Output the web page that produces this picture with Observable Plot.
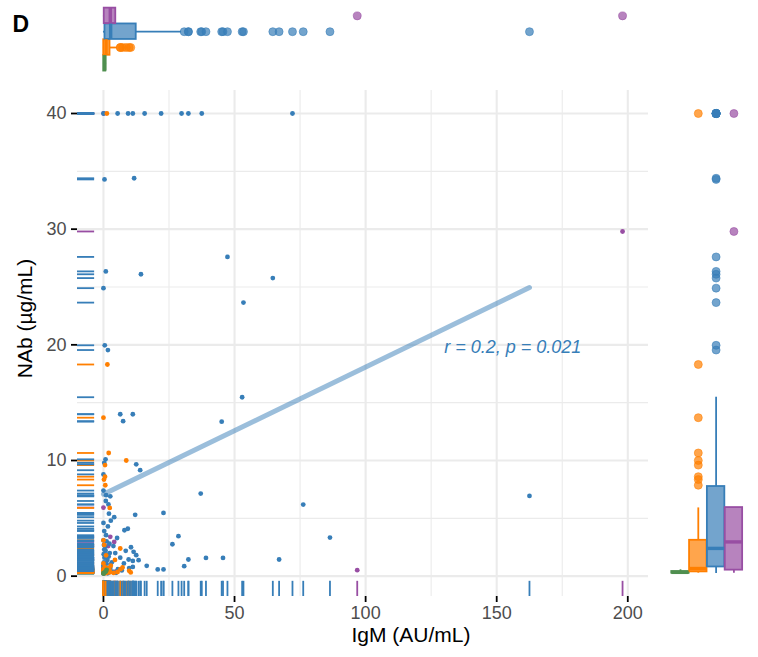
<!DOCTYPE html>
<html>
<head>
<meta charset="utf-8">
<script src="https://cdn.jsdelivr.net/npm/d3@7"></script>
<script src="https://cdn.jsdelivr.net/npm/@observablehq/plot@0.6"></script>
<style>
  body { margin: 0; background: #fff; }
  #chart { position: relative; width: 758px; height: 657px; font-family: "Liberation Sans", Arial, sans-serif; }
  #chart svg { position: absolute; left: 0; top: 0; }
</style>
</head>
<body>
<div id="chart"></div>
<script>
// Groups, listed bottom-to-top in the top margin and left-to-right in the right margin
const groups = ["Group 1", "Group 2", "Group 3", "Group 4"];
const groupColors = ["#4F8F4F", "#FF7F00", "#377EB8", "#984EA3"];

// Each sample as [IgM (AU/mL), NAb (µg/mL)]
const group1 = [[0.9, 0.4], [0, 0.26], [0.5, 0.33], [1.2, 0.55], [0.1, 0.23]];

const group2 = [
  [1.3, 40], [1.5, 18.3], [0, 13.7], [2.0, 10.65], [8.7, 10.0], [0.6, 9.6], [0.6, 8.6], [0.2, 8.35],
  [0.7, 7.86], [2.4, 5.9], [0, 3.1], [6.4, 2.39], [0.3, 2.7], [1.0, 1.8], [4.4, 1.4], [0, 1.1],
  [2.8, 0.9], [0.5, 0.8], [7.3, 0.75], [1.8, 0.7], [0.9, 0.66], [6.5, 0.6], [0, 0.63], [0.4, 0.58],
  [2.3, 0.55], [1.1, 0.52], [0, 0.5], [9.8, 0.46], [2.2, 0.43], [0.1, 0.4], [0, 0.37], [5.4, 0.36],
  [0, 0.35], [2.5, 0.34], [0, 0.33], [10.4, 0.32], [1.6, 0.31], [0, 0.3], [3.9, 0.28], [0, 0.27],
  [0.8, 0.26]
];

const group3 = [
  [0, 40], [5.4, 40], [9.4, 40], [11.2, 40], [15.7, 40], [22.0, 40], [29.8, 40], [32.4, 40], [37.5, 40], [72.1, 40],
  [0.4, 34.3], [11.7, 34.4], [47.3, 27.6], [0.9, 26.35], [14.3, 26.1], [64.6, 25.77], [0, 24.9], [53.4, 23.65],
  [0.5, 19.96], [1.7, 19.55], [52.9, 15.47], [6.4, 14.0], [11.2, 14.0], [7.5, 13.4], [45.1, 13.36],
  [0.8, 10.1], [0.3, 9.8], [12.5, 9.67], [14.0, 9.16], [0, 8.8], [0, 7.4], [1.0, 7.0], [2.6, 6.9],
  [162.5, 6.94], [76.2, 6.19], [37.1, 7.14], [1.9, 6.2], [2.1, 5.4], [4.1, 5.1], [2.8, 4.8], [12.1, 5.3],
  [22.9, 5.47], [8.0, 3.97], [9.3, 4.1], [0.3, 3.9], [1.0, 3.54], [0, 3.1], [28.6, 3.46], [26.3, 2.76],
  [86.4, 3.34], [8.5, 2.19], [11.5, 2.1], [12.5, 1.81], [6.4, 1.6], [9.6, 1.44], [11.2, 1.32], [13.4, 1.38],
  [16.5, 0.89], [20.7, 0.58], [22.9, 0.58], [11.2, 0.8], [4.8, 0.29], [32.4, 1.44], [30.8, 0.86],
  [39.1, 1.58], [45.6, 1.58], [67.0, 1.44],
  [0, 0.23], [0, 0.35], [0.1, 0.42], [0, 0.5], [0.2, 0.55], [0.3, 0.62], [0.1, 0.7], [0, 0.75],
  [0.4, 0.3], [0.2, 0.45], [0.5, 0.65], [0.3, 0.28], [0, 0.6], [0.4, 0.78],
  [0, 0.95], [0.2, 1.2], [0.4, 1.6], [0.1, 1.9], [0.3, 2.3], [0.2, 2.7], [0, 4.6],
  [0.7, 0.3], [1.0, 0.4], [1.4, 0.5], [1.8, 0.6], [2.2, 0.35], [2.6, 0.7], [0.9, 0.75], [1.6, 0.25], [2.0, 0.55],
  [0.6, 0.9], [1.1, 1.1], [1.5, 1.4], [2.0, 1.7], [2.4, 2.0], [0.8, 2.2], [1.3, 1.85], [2.7, 1.0],
  [0.7, 2.55], [1.2, 3.0], [1.7, 4.3], [2.3, 2.8], [0.9, 6.5],
  [3.5, 0.4], [5.5, 0.6], [7.0, 0.5], [9.8, 0.7], [3.2, 1.2], [4.5, 2.0], [7.8, 1.1],
  [3.8, 2.6], [5.2, 3.3], [10.5, 2.5]
];

const group4 = [[0, 5.93], [0.1, 40], [0.3, 0.26], [1.8, 2.6], [2.6, 3.4], [4.1, 2.96], [4.7, 0.4], [96.8, 0.52], [198, 29.8]];

// Linear fit of NAb on IgM for Group 3 (intercept, slope) and its correlation label
const fitGroup = "Group 3";
const fitCoef = [7.08, 0.110];
const corText = "r = 0.2, p = 0.021";
const corAt = [130, 19.8];

// Axis ticks
const xTicks = [0, 50, 100, 150, 200];
const xMinor = [25, 75, 125, 175];
const yTicks = [0, 10, 20, 30, 40];
const yMinor = [5, 15, 25, 35];

const xTitle = "IgM (AU/mL)";
const yTitle = "NAb (µg/mL)";
const panelTag = "D";

// ---- assemble rows ----
const byGroup = [group1, group2, group3, group4];
const rows = groups.map((g, i) => byGroup[i].map(([x, y], k, arr) => ({group: g, idx: i + 1, x, y, f: k / arr.length})));
// Dots: later rows sit on top
const points = [rows[3], rows[2], rows[1], rows[0]].flat();
// Rug lines: Group 4 underneath, the other groups interleaved as in a mixed sample table
const rugPoints = rows[3].concat(d3.sort([rows[0], rows[1], rows[2]].flat(), d => d.f));

// Boxplot statistics (R type-7 quantiles, 1.5 IQR whiskers)
function boxStats(values) {
  const v = values.slice().sort(d3.ascending);
  const q1 = d3.quantileSorted(v, 0.25), median = d3.quantileSorted(v, 0.5), q3 = d3.quantileSorted(v, 0.75);
  const iqr = q3 - q1, lo = q1 - 1.5 * iqr, hi = q3 + 1.5 * iqr;
  const inside = v.filter(d => d >= lo && d <= hi);
  return {q1, median, q3, min: d3.min(inside), max: d3.max(inside), out: v.filter(d => d < lo || d > hi)};
}
const xStats = [], yStats = [], xOut = [], yOut = [];
rows.forEach((r, i) => {
  const g = groups[i], idx = i + 1;
  const sx = boxStats(r.map(d => d.x)), sy = boxStats(r.map(d => d.y));
  xStats.push({group: g, idx, ...sx});
  yStats.push({group: g, idx, ...sy});
  sx.out.forEach(v => xOut.push({group: g, idx, v}));
  sy.out.forEach(v => yOut.push({group: g, idx, v}));
});

// Scales padded by 5% of the data range on each side
function padded(vals) {
  const [a, b] = d3.extent(vals), p = (b - a) * 0.05;
  return [a - p, b + p];
}
const xDomain = padded(points.map(d => d.x));
const yDomain = padded(points.map(d => d.y));
const color = {domain: groups, range: groupColors};

const W = 758, H = 657;
const M = {left: 77, right: 110, top: 90, bottom: 61};
const frameW = W - M.left - M.right, frameH = H - M.top - M.bottom;
const font = "'Liberation Sans', Arial, sans-serif";
const grid = "#ebebeb";

const fitX = d3.extent(rows[groups.indexOf(fitGroup)], d => d.x);
const fitLine = fitX.map(x => ({x, y: fitCoef[0] + fitCoef[1] * x}));
const fitColor = groupColors[groups.indexOf(fitGroup)];

const main = Plot.plot({
  width: W, height: H,
  marginLeft: M.left, marginRight: M.right, marginTop: M.top, marginBottom: M.bottom,
  x: {domain: xDomain},
  y: {domain: yDomain},
  color,
  style: {background: "transparent", fontFamily: font, overflow: "visible"},
  marks: [
    Plot.gridX(xMinor, {stroke: grid, strokeOpacity: 1, strokeWidth: 1.1}),
    Plot.gridY(yMinor, {stroke: grid, strokeOpacity: 1, strokeWidth: 1.1}),
    Plot.gridX(xTicks, {stroke: grid, strokeOpacity: 1, strokeWidth: 2.1}),
    Plot.gridY(yTicks, {stroke: grid, strokeOpacity: 1, strokeWidth: 2.1}),
    // rugs along the left and bottom edges
    Plot.tickY(rugPoints, {y: "y", stroke: "group", strokeWidth: 1.8, insetRight: frameW - 0.03 * frameW}),
    Plot.tickX(rugPoints, {x: "x", stroke: "group", strokeWidth: 1.8, insetTop: frameH - 0.03 * frameH}),
    Plot.line(fitLine, {x: "x", y: "y", stroke: fitColor, strokeOpacity: 0.5, strokeWidth: 5}),
    Plot.dot(points, {x: "x", y: "y", fill: "group", r: 2.4}),
    Plot.text([corText], {x: () => corAt[0], y: () => corAt[1], text: d => d, fill: fitColor,
      fontStyle: "italic", fontSize: 18, textAnchor: "start"}),
    Plot.axisX(xTicks, {tickSize: 6, tickPadding: 4, fontSize: 18, stroke: "#000", strokeWidth: 1.8,
      fill: "#4d4d4d", label: null}),
    Plot.axisY(yTicks, {tickSize: 6, tickPadding: 5, fontSize: 18, stroke: "#000", strokeWidth: 1.8,
      fill: "#4d4d4d", label: null}),
    Plot.text([xTitle], {frameAnchor: "bottom", textAnchor: "middle", dx: 48, dy: 45, fontSize: 21, fill: "#000"}),
    Plot.text([yTitle], {frameAnchor: "left", textAnchor: "middle", dx: -52, dy: -25, rotate: -90,
      fontSize: 21, fill: "#000"}),
    Plot.text([panelTag], {frameAnchor: "top-left", dx: -65, dy: -75, textAnchor: "start",
      fontSize: 23, fontWeight: "bold", fill: "#000"})
  ]
});

const boxHalf = 0.49;

// IgM distribution per group, above the panel
const topMargin = Plot.plot({
  width: W, height: H,
  marginLeft: M.left, marginRight: M.right,
  x: {domain: xDomain, axis: null},
  y: {domain: [0.4, 4.6], range: [72.3, 5.9], axis: null},
  color,
  style: {background: "transparent", fontFamily: font, overflow: "visible"},
  marks: [
    Plot.ruleY(xStats, {y: "idx", x1: "min", x2: "q1", stroke: "group", strokeWidth: 1.8}),
    Plot.ruleY(xStats, {y: "idx", x1: "q3", x2: "max", stroke: "group", strokeWidth: 1.8}),
    Plot.rect(xStats, {x1: "q1", x2: "q3", y1: d => d.idx - boxHalf, y2: d => d.idx + boxHalf,
      fill: "group", fillOpacity: 0.7, stroke: "group", strokeWidth: 1.8}),
    Plot.ruleX(xStats, {x: "median", y1: d => d.idx - boxHalf, y2: d => d.idx + boxHalf,
      stroke: "group", strokeWidth: 3.4}),
    Plot.dot(xOut, {x: "v", y: "idx", fill: "group", fillOpacity: 0.7, stroke: "group",
      strokeOpacity: 0.7, strokeWidth: 0.8, r: 4})
  ]
});

// NAb distribution per group, right of the panel
const rightMargin = Plot.plot({
  width: W, height: H,
  marginTop: M.top, marginBottom: M.bottom,
  x: {domain: [0.4, 4.6], range: [669.3, 744.1], axis: null},
  y: {domain: yDomain, axis: null},
  color,
  style: {background: "transparent", fontFamily: font, overflow: "visible"},
  marks: [
    Plot.ruleX(yStats, {x: "idx", y1: "min", y2: "q1", stroke: "group", strokeWidth: 1.8}),
    Plot.ruleX(yStats, {x: "idx", y1: "q3", y2: "max", stroke: "group", strokeWidth: 1.8}),
    Plot.rect(yStats, {y1: "q1", y2: "q3", x1: d => d.idx - boxHalf, x2: d => d.idx + boxHalf,
      fill: "group", fillOpacity: 0.7, stroke: "group", strokeWidth: 1.8}),
    Plot.ruleY(yStats, {y: "median", x1: d => d.idx - boxHalf, x2: d => d.idx + boxHalf,
      stroke: "group", strokeWidth: 3.4}),
    Plot.dot(yOut, {y: "v", x: "idx", fill: "group", fillOpacity: 0.7, stroke: "group",
      strokeOpacity: 0.7, strokeWidth: 0.8, r: 4})
  ]
});

const chart = document.getElementById("chart");
chart.append(main, topMargin, rightMargin);
</script>
</body>
</html>
